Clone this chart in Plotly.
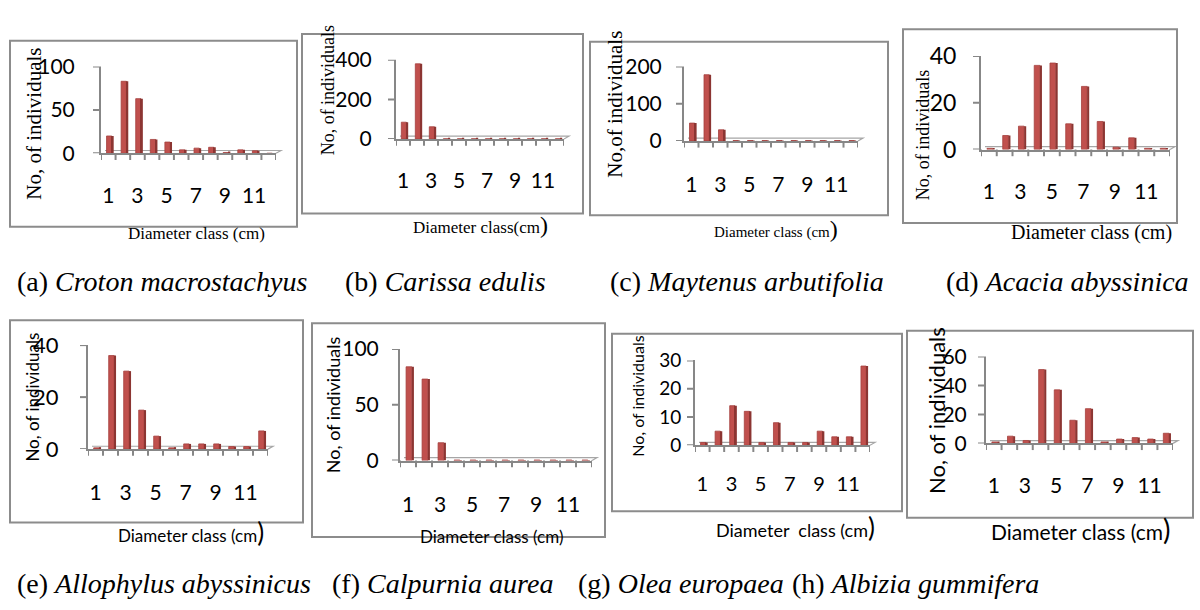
import plotly.graph_objects as go

W, H = 1200, 610

# Diameter classes and the labels shown on the category axis
classes = list(range(1, 13))
tick_vals = [1, 3, 5, 7, 9, 11]
tick_labels = ["1", "3", "5", "7", "9", "11"]
class_edges = [k + 0.5 for k in range(13)]

# Number of individuals per diameter class, one list per species
croton = [20, 83, 63, 16, 13, 4, 6, 7, 1, 4, 3, 0]
carissa = [85, 380, 62, 1, 1, 1, 1, 1, 1, 1, 1, 1]
maytenus = [48, 178, 30, 1, 1, 1, 1, 1, 1, 1, 1, 1]
acacia = [0.5, 6, 10, 36, 37, 11, 27, 12, 1, 5, 0.5, 0.5]
allophylus = [0.5, 36, 30, 15, 5, 0.5, 2, 2, 2, 1, 1, 7]
calpurnia = [84, 73, 16, 0.5, 0.5, 0.5, 0.5, 0.5, 0.5, 0.5, 0.5, 0.5]
olea = [1, 5, 14, 12, 1, 8, 1, 1, 5, 3, 3, 28]
albizia = [1, 5, 2, 51, 37, 16, 24, 1, 3, 4, 3, 7]

captions_top = [
    ("(a) ", "Croton macrostachyus"),
    ("(b) ", "Carissa edulis"),
    ("(c) ", "Maytenus arbutifolia"),
    ("(d) ", "Acacia abyssinica"),
]
captions_bottom = [
    ("(e) ", "Allophylus abyssinicus"),
    ("(f) ", "Calpurnia aurea"),
    ("(g) ", "Olea europaea"),
    ("(h) ", "Albizia gummifera"),
]

FRONT = "#C0504D"
EDGE = "#A5403D"
SIDE = "#8C3532"
AXIS = "#878787"
FLOOR = "#A6A6A6"
FRAME = "#8C8C8C"
SERIF = "Liberation Serif"
SANS = "Lato"

# Pixel geometry of each small chart: frame box, plot box, label positions
panels = [
    dict(vals=croton, ymax=100, dtick=50, frame=(10, 27, 297, 222), x0=101, x1=276,
         ytop=54, yzero=145, ylab_r=78, xlab_y=188, yfs=21, xfs=21,
         ytitle=("No, of individuals", SERIF, 21, 34, 114),
         xtitle=("Diameter class (cm)", SERIF, 17, 196, 229)),
    dict(vals=carissa, ymax=400, dtick=200, frame=(302, 20, 583, 208), x0=396, x1=564,
         ytop=47, yzero=130, ylab_r=375, xlab_y=173, yfs=21, xfs=21,
         ytitle=("No, of individuals", SERIF, 18, 328, 79),
         xtitle=("Diameter class(cm<span style='font-size:24px'>)</span>", SERIF, 17, 480, 220)),
    dict(vals=maytenus, ymax=200, dtick=100, frame=(590, 28, 888, 210), x0=684, x1=858,
         ytop=54, yzero=132, ylab_r=665, xlab_y=177, yfs=21, xfs=21,
         ytitle=("No,of individuals", SERIF, 21, 615, 94),
         xtitle=("Diameter class (cm<span style='font-size:24px'>)</span>", SERIF, 15, 776, 224)),
    dict(vals=acacia, ymax=40, dtick=20, frame=(903, 15, 1177, 218), x0=981, x1=1170,
         ytop=43, yzero=141, ylab_r=960, xlab_y=184, yfs=23, xfs=21,
         ytitle=("No, of individuals", SERIF, 18, 923, 126),
         xtitle=("Diameter class (cm)", SERIF, 20, 1091, 228)),
    dict(vals=allophylus, ymax=40, dtick=20, frame=(10, 320, 303, 532), x0=88, x1=268,
         ytop=346, yzero=455, ylab_r=62, xlab_y=500, yfs=22, xfs=21,
         ytitle=("No, of individuals", SANS, 17, 33, 401),
         xtitle=("Diameter class (cm<span style='font-size:26px'>)</span>", SANS, 17, 191, 542)),
    dict(vals=calpurnia, ymax=100, dtick=50, frame=(312, 323, 605, 547), x0=400, x1=592,
         ytop=350, yzero=467, ylab_r=382, xlab_y=513, yfs=21, xfs=21,
         ytitle=("No, of individuals", SANS, 18, 333, 409),
         xtitle=("Diameter class (cm)", SANS, 17, 491, 547)),
    dict(vals=olea, ymax=30, dtick=10, frame=(612, 334, 902, 520), x0=695, x1=870,
         ytop=362, yzero=451, ylab_r=684, xlab_y=492, yfs=19, xfs=20,
         ytitle=("No, of individuals", SANS, 16, 638, 400),
         xtitle=("Diameter&nbsp; class (cm<span style='font-size:26px'>)</span>", SANS, 18, 795, 537)),
    dict(vals=albizia, ymax=60, dtick=20, frame=(907, 331, 1193, 527), x0=986, x1=1173,
         ytop=358, yzero=449, ylab_r=970, xlab_y=493, yfs=21, xfs=21,
         ytitle=("No, of individuals", SANS, 22, 937, 415),
         xtitle=("Diameter class (cm<span style='font-size:28px'>)</span>", SANS, 21, 1080, 539)),
]


def xp(px):
    return px / W


def yp(py):
    return 1 - py / H


fig = go.Figure()
axes = {}
shapes = []
annotations = []

for i, p in enumerate(panels):
    n = i + 1
    xa = "x" if n == 1 else f"x{n}"
    ya = "y" if n == 1 else f"y{n}"
    xkey = "xaxis" if n == 1 else f"xaxis{n}"
    ykey = "yaxis" if n == 1 else f"yaxis{n}"

    # column front face and darker side face
    fig.add_trace(go.Bar(
        x=classes, y=p["vals"], xaxis=xa, yaxis=ya, width=0.36, offset=-0.12,
        marker=dict(color=FRONT, line=dict(color=EDGE, width=0.8)),
        showlegend=False, hoverinfo="skip"))
    fig.add_trace(go.Bar(
        x=classes, y=p["vals"], xaxis=xa, yaxis=ya, width=0.13, offset=0.24,
        marker=dict(color=SIDE, line=dict(width=0)),
        showlegend=False, hoverinfo="skip"))

    # category labels sit below an invisible long tick
    x_gap = max(2, round(p["xlab_y"] - p["yzero"] - 0.5 * p["xfs"] - 11))
    axes[xkey] = dict(
        domain=[xp(p["x0"]), xp(p["x1"])], anchor=ya, range=[0.5, 12.5],
        tickmode="array", tickvals=tick_vals, ticktext=tick_labels,
        ticks="outside", ticklen=x_gap, tickcolor="rgba(0,0,0,0)",
        showline=True, linecolor=AXIS, linewidth=2,
        showgrid=False, zeroline=False, fixedrange=True,
        tickfont=dict(family=SANS, size=p["xfs"], color="black"),
    )
    yticks = list(range(0, p["ymax"] + 1, p["dtick"]))
    y_gap = max(2, round(p["x0"] - p["ylab_r"] - 3))
    axes[ykey] = dict(
        domain=[yp(p["yzero"]), yp(p["ytop"])], anchor=xa, range=[0, p["ymax"]],
        tickmode="array", tickvals=yticks,
        ticks="outside", ticklen=y_gap, tickcolor="rgba(0,0,0,0)",
        showline=True, linecolor=AXIS, linewidth=2,
        showgrid=False, zeroline=False, fixedrange=True,
        tickfont=dict(family=SANS, size=p["yfs"], color="black"),
    )

    # short tick marks at the class boundaries, hanging below the floor
    for e in class_edges:
        shapes.append(dict(type="line", xref=xa, yref="paper",
                           x0=e, x1=e, y0=yp(p["yzero"]), y1=yp(p["yzero"] + 7),
                           line=dict(color=AXIS, width=2)))
    # short tick marks on the value axis
    for v in yticks:
        shapes.append(dict(type="line", xref="paper", yref=ya,
                           x0=xp(p["x0"] - 8), x1=xp(p["x0"]), y0=v, y1=v,
                           line=dict(color=AXIS, width=2)))

    # thin floor edge behind the columns
    fx = xp(p["x0"] + 4), xp(p["x1"] + 5), xp(p["x1"])
    fy = yp(p["yzero"] - 3), yp(p["yzero"])
    shapes.append(dict(type="path", xref="paper", yref="paper",
                       path=f"M{fx[0]},{fy[0]} L{fx[1]},{fy[0]} L{fx[2]},{fy[1]}",
                       line=dict(color=FLOOR, width=1.2), layer="below"))

    fx0, fy0, fx1, fy1 = p["frame"]
    shapes.append(dict(type="rect", xref="paper", yref="paper",
                       x0=xp(fx0), x1=xp(fx1), y0=yp(fy1), y1=yp(fy0),
                       line=dict(color=FRAME, width=2), fillcolor="rgba(0,0,0,0)",
                       layer="below"))

    t, fam, fs, cx, cy = p["ytitle"]
    annotations.append(dict(text=t, x=xp(cx), y=yp(cy), xref="paper", yref="paper",
                            textangle=-90, showarrow=False, xanchor="center", yanchor="middle",
                            font=dict(family=fam, size=fs, color="black")))
    t, fam, fs, cx, cy = p["xtitle"]
    annotations.append(dict(text=t, x=xp(cx), y=yp(cy), xref="paper", yref="paper",
                            showarrow=False, xanchor="center", yanchor="middle",
                            font=dict(family=fam, size=fs, color="black")))

# figure captions under each row
cap_top_x = [15, 343, 608, 944]
cap_bottom_x = [15, 330, 576, 790]
for (lab, name), cx in zip(captions_top, cap_top_x):
    annotations.append(dict(text=f"{lab}<i>{name}</i>", x=xp(cx), y=yp(279),
                            xref="paper", yref="paper", showarrow=False,
                            xanchor="left", yanchor="middle",
                            font=dict(family=SERIF, size=28, color="black")))
for (lab, name), cx in zip(captions_bottom, cap_bottom_x):
    annotations.append(dict(text=f"{lab}<i>{name}</i>", x=xp(cx), y=yp(596),
                            xref="paper", yref="paper", showarrow=False,
                            xanchor="left", yanchor="middle",
                            font=dict(family=SERIF, size=28, color="black")))

fig.update_layout(
    width=W, height=H, margin=dict(l=0, r=0, t=0, b=0),
    paper_bgcolor="white", plot_bgcolor="rgba(0,0,0,0)",
    barmode="overlay", showlegend=False,
    shapes=shapes, annotations=annotations, **axes,
)

fig.write_html("out.html", config={"displayModeBar": False})
